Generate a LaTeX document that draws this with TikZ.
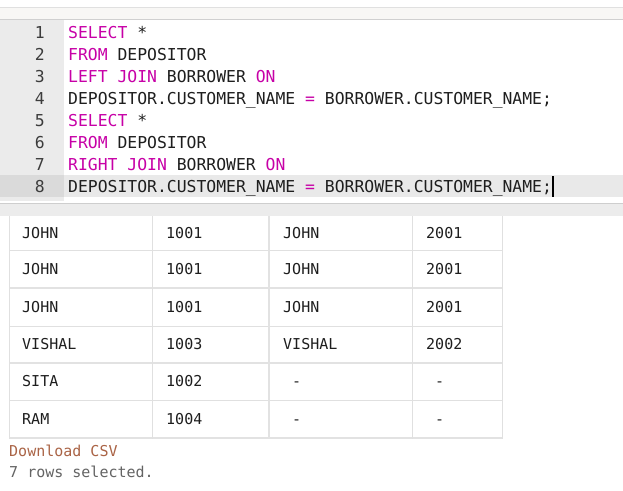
\documentclass[tikz,border=0pt]{standalone}
\usepackage{fontspec}
\newfontfamily\codefont{DejaVu Sans Mono}
\usetikzlibrary{positioning}
\definecolor{kwcol}{RGB}{199,0,167}
\definecolor{txtcol}{RGB}{30,30,30}
\definecolor{numcol}{RGB}{60,60,60}
\definecolor{guttercol}{RGB}{235,235,235}
\definecolor{curcol}{RGB}{218,218,218}
\definecolor{hlcol}{RGB}{233,233,233}
\definecolor{gridcol}{RGB}{224,224,224}
\definecolor{gridthick}{RGB}{226,226,226}
\definecolor{topband}{RGB}{248,247,245}
\definecolor{topline}{RGB}{208,208,208}
\definecolor{resband}{RGB}{236,236,236}
\definecolor{resline}{RGB}{206,206,206}
\definecolor{csvcol}{RGB}{170,100,70}
\definecolor{infocol}{RGB}{100,100,100}

\begin{document}
\begin{tikzpicture}[x=1pt,y=-1pt,
    code/.style={anchor=base west,inner sep=0pt,font=\codefont\fontsize{16.4}{20}\selectfont,text=txtcol},
    num/.style={anchor=base east,inner sep=0pt,font=\codefont\fontsize{16.4}{20}\selectfont,text=numcol},
    cell/.style={anchor=base west,inner sep=0pt,font=\codefont\fontsize{15}{18}\selectfont,text=txtcol},
    thin/.style={draw=gridcol,line width=1pt},
    thick/.style={draw=gridthick,line width=2pt}]
\useasboundingbox (0,0) rectangle (623,490);

% editor frame
\fill[white] (0,0) rectangle (623,490);
\fill[topband] (0,8) rectangle (623,19);
\draw[gridcol] (0,7.5) -- (623,7.5);
\draw[topline] (0,19.5) -- (623,19.5);
\fill[guttercol] (0,20) rectangle (64,201);
\fill[hlcol] (64,175) rectangle (623,197);
\fill[curcol] (0,175) rectangle (64,197);

% line numbers
\foreach \i in {1,...,8}
  \node[num] (n\i) at (45,16.5+22*\i) {\i};

% code lines
\node[right=23pt of n1.base east, code] (l1) {\textcolor{kwcol}{SELECT} *};
\node[right=23pt of n2.base east, code] (l2) {\textcolor{kwcol}{FROM} DEPOSITOR};
\node[right=23pt of n3.base east, code] (l3) {\textcolor{kwcol}{LEFT JOIN} BORROWER \textcolor{kwcol}{ON}};
\node[right=23pt of n4.base east, code] (l4) {DEPOSITOR.CUSTOMER\_NAME \textcolor{kwcol}{=} BORROWER.CUSTOMER\_NAME;};
\node[right=23pt of n5.base east, code] (l5) {\textcolor{kwcol}{SELECT} *};
\node[right=23pt of n6.base east, code] (l6) {\textcolor{kwcol}{FROM} DEPOSITOR};
\node[right=23pt of n7.base east, code] (l7) {\textcolor{kwcol}{RIGHT JOIN} BORROWER \textcolor{kwcol}{ON}};
\node[right=23pt of n8.base east, code] (l8) {DEPOSITOR.CUSTOMER\_NAME \textcolor{kwcol}{=} BORROWER.CUSTOMER\_NAME;};
\fill[black] (l8.east|-0,176) rectangle ++(2.2,21);

% result header band
\fill[resband] (0,203) rectangle (623,216);
\draw[resline] (0,203) -- (623,203);

% table grid
\foreach \y in {250,326,400}
  \draw[thin] (9,\y) -- (502,\y);
\foreach \y in {288,363,437.5}
  \draw[thick] (9,\y) -- (502,\y);
\foreach \x in {9,152.5,412.5,502}
  \draw[thin] (\x,216) -- (\x,438.5);
\draw[thick] (268.5,216) -- (268.5,438.5);

% table rows
\foreach \a/\b/\c/\d/\y [count=\i] in {JOHN/1001/JOHN/2001/238, JOHN/1001/JOHN/2001/274,
    JOHN/1001/JOHN/2001/312, VISHAL/1003/VISHAL/2002/349.5,
    SITA/1002/{\hphantom{0}-}/{\hphantom{0}-}/386.5, RAM/1004/{\hphantom{0}-}/{\hphantom{0}-}/424} {
  \node[cell] (r\i a) at (22,\y) {\a};
  \node[cell] (r\i b) at (166,\y) {\b};
  \node[cell] (r\i c) at (283,\y) {\c};
  \node[cell] (r\i d) at (426,\y) {\d};
}

% footer
\node[cell, text=csvcol] (csv) at (9,456) {Download CSV};
\node[below=21.5pt of csv.base west, cell, text=infocol] (info) {7 rows selected.};
\end{tikzpicture}
\end{document}
